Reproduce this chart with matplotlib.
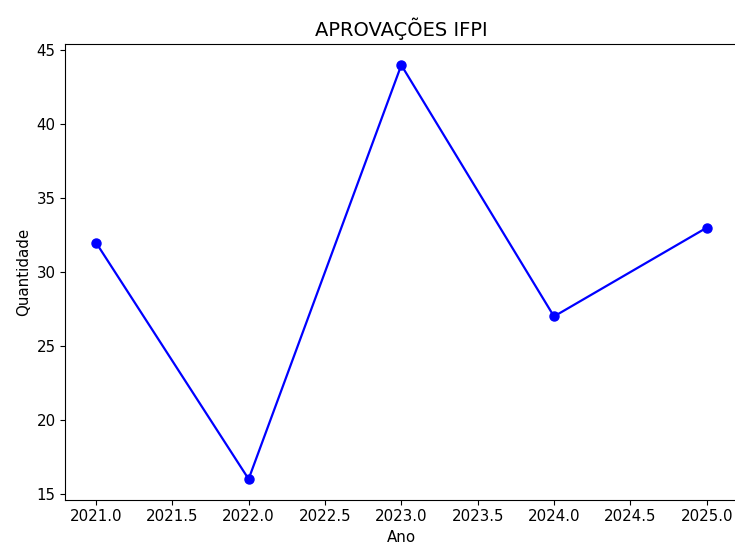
import matplotlib
matplotlib.use("Agg")
import matplotlib.pyplot as plt

anos = [2021, 2022, 2023, 2024, 2025]
quantidade = [32, 16, 44, 27, 33]

plt.rcParams["font.size"] = 10.8
fig, ax = plt.subplots(figsize=(7.35, 5.48), dpi=100)
fig.subplots_adjust(left=0.089, right=1.003, top=0.919, bottom=0.088)
ax.plot(anos, quantidade, marker="o", color="blue", linewidth=1.6, markersize=6.5)
ax.set_title("APROVAÇÕES IFPI", fontsize=14)
ax.set_xlabel("Ano")
ax.set_ylabel("Quantidade")
fig.savefig("out.png")
